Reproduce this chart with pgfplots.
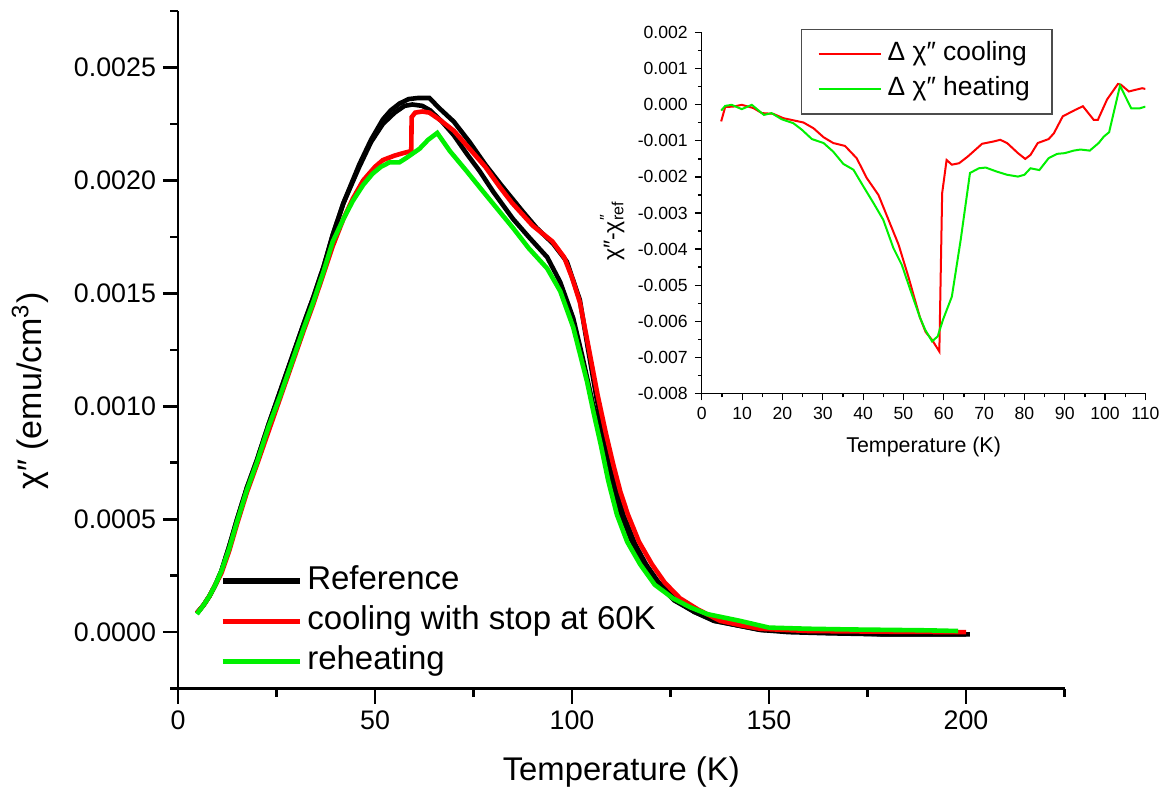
\documentclass[border=0pt]{standalone}
\usepackage{fontspec}
\setmainfont{Liberation Sans}
\usepackage{pgfplots}
\pgfplotsset{compat=1.18}
\usepackage{pgfplotstable}

\pgfplotstableread{
T y
4.8 0.000084
6.5 0.00012
8 0.00016
9.5 0.00021
11 0.00027
13 0.00038
15 0.00050
17.5 0.00064
20 0.00076
23 0.00092
26 0.00107
29 0.00122
32 0.00137
34.3 0.00148
37 0.00162
39.3 0.00176
42 0.00190
46 0.00207
49 0.00218
52 0.00227
54 0.00231
56.2 0.00234
58.5 0.00236
61 0.002365
63.8 0.002365
66.3 0.00232
70 0.00226
74 0.00217
78 0.00207
82 0.00198
87.6 0.00186
91 0.00179
95.2 0.00172
98.7 0.00164
102 0.00147
104 0.00126
106.3 0.00103
108.4 0.00086
110.5 0.00069
113 0.00052
116 0.00039
118.8 0.00030
122 0.00022
126.4 0.00015
131 0.00009
136.3 0.00005
142 0.00003
147.7 0.000010
155 0.000000
165 -0.000005
180 -0.00001
190 -0.00001
201 -0.00001
}\refA

\pgfplotstableread{
T y
4.8 0.000084
6.5 0.00012
8 0.00016
9.5 0.00021
11 0.00027
13 0.00038
15 0.00050
17.5 0.00064
20 0.00076
23 0.00092
26 0.00107
29 0.00122
32 0.00137
34.3 0.00148
37 0.00162
39.3 0.00176
42 0.00190
46 0.00206
49 0.00217
52 0.00225
55 0.00230
57.5 0.00233
59.5 0.002336
62 0.00233
64 0.00231
67 0.00226
70 0.00220
73.2 0.00212
76.6 0.00204
80 0.00195
85 0.00183
89 0.00175
93.7 0.00166
97 0.00155
100.3 0.00139
102.5 0.00123
105.3 0.00101
107.9 0.00085
110 0.00068
112.5 0.00052
115 0.00041
118.3 0.00030
122 0.00021
126 0.00014
131 0.00009
136 0.00005
142 0.00003
148 0.00001
160 0.0
180 -0.00001
200 -0.00001
}\refB

\pgfplotstableread{
T y
4.8 0.000084
6.5 0.00012
8 0.00016
9.5 0.00021
11 0.00026
13 0.00036
15 0.00048
17.5 0.00062
20 0.00074
23 0.00089
26 0.00104
29 0.00119
32 0.00134
34.3 0.00145
37 0.00159
39.3 0.00171
42 0.00183
44.4 0.00192
47 0.00200
50 0.00206
52 0.00209
55 0.00211
57 0.00212
59.2 0.00213
59.3 0.00228
60.2 0.00230
62 0.002305
63.8 0.00230
66.3 0.00227
70 0.00222
74 0.00214
78 0.00206
81.7 0.00197
84.8 0.00190
90 0.00180
95 0.00173
98 0.00166
100 0.00157
102 0.00146
104 0.00128
106.5 0.00105
108.6 0.00088
110.5 0.00074
112.3 0.00062
114.2 0.00052
117 0.00040
120.3 0.00030
123.5 0.00022
127.4 0.00015
132 0.00010
137.6 0.00005
143 0.00003
147.7 0.000015
160 0.000005
180 0.000002
200 0.0
}\cool

\pgfplotstableread{
T y
4.8 0.00008
6.5 0.00012
8 0.00016
9.5 0.00021
11 0.00027
13 0.00037
15 0.00049
17.5 0.00063
20 0.00075
23 0.00091
26 0.00105
29 0.00120
32 0.00135
34.3 0.00146
37 0.00160
39.3 0.00173
42 0.00183
44.4 0.00191
47 0.00198
49.4 0.00203
51.5 0.00206
53.7 0.00208
56.2 0.00208
58 0.00210
61.3 0.00214
63.5 0.00218
65.8 0.00221
69 0.00213
73.3 0.00204
77 0.00196
81.7 0.00186
85 0.00179
89 0.00170
93.7 0.00161
97 0.00151
100.3 0.00135
103.8 0.00111
105.5 0.00097
107.3 0.00083
109.2 0.00067
111.4 0.00052
114 0.00040
117.3 0.00030
121 0.00021
125.6 0.00015
130 0.00011
134.3 0.00008
142.6 0.00005
150 0.00002
160 0.000015
170 0.000012
180 0.00001
190 0.000008
198 0.000005
}\heat

\pgfplotstableread{
T y
4.8 -0.00046
5.8 -0.00006
7.8 -0.00005
9.9 0.0
12.8 -0.00009
14.9 -0.00023
17.7 -0.00025
20.2 -0.00037
22.7 -0.00043
25.2 -0.00049
27.7 -0.00065
30.2 -0.00090
32.6 -0.00106
35.5 -0.00114
38.4 -0.00148
40.9 -0.00203
43.8 -0.00250
46.3 -0.00319
48.8 -0.00388
51.2 -0.00476
54.1 -0.00590
55.5 -0.00630
57.1 -0.00652
58.9 -0.00684
59.6 -0.00245
60.7 -0.00153
62.0 -0.00166
63.8 -0.00162
66.0 -0.00143
69.5 -0.00108
72.2 -0.00102
74.0 -0.00097
75.7 -0.00106
78.4 -0.00134
80.2 -0.00150
81.5 -0.00139
83.3 -0.00106
86.0 -0.00095
87.3 -0.00079
89.5 -0.00032
92.6 -0.00014
94.5 -0.00004
97.2 -0.00042
98.2 -0.00042
100.5 0.00015
103.2 0.00058
103.9 0.00056
105.9 0.00037
107.7 0.00042
109.2 0.00046
110 0.00044
}\dcool

\pgfplotstableread{
T y
4.8 -0.00016
5.8 -0.00003
7.4 0.0
9.9 -0.00012
12.4 0.0
15.4 -0.00028
17.3 -0.00023
19.8 -0.00040
22.7 -0.00051
24.8 -0.00069
27.3 -0.00095
30.2 -0.00106
32.6 -0.00130
35.1 -0.00164
37.6 -0.00180
40.1 -0.00227
42.6 -0.00273
45.0 -0.00319
47.5 -0.00397
49.6 -0.00444
51.7 -0.00513
54.1 -0.00590
55.4 -0.00624
57.1 -0.00656
58.5 -0.00642
59.8 -0.00596
62.0 -0.00532
64.2 -0.00374
66.5 -0.00189
68.7 -0.00176
70.4 -0.00174
73.1 -0.00185
75.7 -0.00194
78.4 -0.00199
80.0 -0.00194
81.5 -0.00176
83.7 -0.00181
86.0 -0.00148
88.1 -0.00136
90.0 -0.00134
92.2 -0.00127
93.9 -0.00124
96.2 -0.00127
98.4 -0.00106
99.7 -0.00088
101.0 -0.00076
103.7 0.00053
106.5 -0.00010
108.5 -0.00010
110 -0.00005
}\dheat

\definecolor{myred}{RGB}{255,0,0}
\definecolor{mygreen}{RGB}{0,240,0}

\begin{document}
\begin{tikzpicture}
\useasboundingbox (0,0) rectangle (580pt,396.5pt);

\begin{axis}[
  at={(89pt,52.2pt)}, anchor=south west,
  scale only axis, width=443.25pt, height=338.8pt,
  xmin=0, xmax=225, ymin=-0.00025, ymax=0.00275,
  axis x line=bottom, axis y line=left,
  axis line style={line width=1.3pt, -},
  tick align=outside,
  major tick length=7.5pt, minor tick length=4pt,
  tick style={line width=1.3pt, black},
  xtick={0,50,100,150,200}, minor xtick={25,75,125,175,225},
  ytick={0,0.0005,0.001,0.0015,0.002,0.0025},
  minor ytick={-0.00025,0.00025,0.00075,0.00125,0.00175,0.00225,0.00275},
  scaled y ticks=false,
  yticklabel style={/pgf/number format/.cd, fixed, fixed zerofill, precision=4},
  /pgf/number format/assume math mode=true,
  ticklabel style={font=\fontsize{13.4}{16}\selectfont},
  xlabel={Temperature (K)},
  ylabel={χ″ (emu/cm\textsuperscript{3})},
  xlabel style={font=\fontsize{16.4}{19}\selectfont, at={(axis description cs:0.5,-0.123)}, anchor=center},
  ylabel style={font=\fontsize{17}{20}\selectfont, at={(axis description cs:-0.167,0.439)}, anchor=center},
  legend cell align=left,
  legend image code/.code={\draw[#1, line width=2.6pt] (0pt,0pt) -- (38.5pt,0pt);},
  legend style={draw=none, fill=none, at={(axis description cs:0.047,0.183)}, anchor=north west,
    font=\fontsize{16.5}{19}\selectfont, row sep=4.1pt, inner sep=0pt,
    nodes={inner ysep=0pt, inner xsep=2.5pt, text height=12pt, text depth=4pt}},
]
\addplot[black, line width=2.3pt] table[x=T, y=y] {\refA};
\addlegendentry{Reference}
\addplot[black, line width=2.3pt, forget plot] table[x=T, y=y] {\refB};
\addplot[myred, line width=2.3pt] table[x=T, y=y] {\cool};
\addlegendentry{cooling with stop at 60K}
\addplot[mygreen, line width=2.3pt] table[x=T, y=y] {\heat};
\addlegendentry{reheating}
\end{axis}

\begin{axis}[
  at={(350.9pt,199.85pt)}, anchor=south west,
  scale only axis, width=221.8pt, height=180.3pt,
  xmin=0, xmax=110, ymin=-0.008, ymax=0.002,
  axis x line=bottom, axis y line=left,
  axis line style={line width=0.6pt, -},
  tick align=outside,
  major tick length=3.5pt, minor tick length=2pt,
  tick style={line width=0.6pt, black},
  xtick={0,10,20,30,40,50,60,70,80,90,100,110},
  minor xtick={5,15,25,35,45,55,65,75,85,95,105},
  ytick={-0.008,-0.007,-0.006,-0.005,-0.004,-0.003,-0.002,-0.001,0,0.001,0.002},
  minor ytick={-0.0075,-0.0065,-0.0055,-0.0045,-0.0035,-0.0025,-0.0015,-0.0005,0.0005,0.0015},
  scaled y ticks=false,
  yticklabel style={/pgf/number format/.cd, fixed, fixed zerofill, precision=3},
  /pgf/number format/assume math mode=true,
  ticklabel style={font=\fontsize{8.8}{10.5}\selectfont},
  xlabel={Temperature (K)},
  ylabel={χ″-χ\rlap{\textsuperscript{″}}\textsubscript{ref}},
  xlabel style={font=\fontsize{10.7}{12.5}\selectfont, at={(axis description cs:0.5,-0.149)}, anchor=center},
  ylabel style={font=\fontsize{11.5}{13}\selectfont, at={(axis description cs:-0.202,0.45)}, anchor=center},
  legend cell align=left,
  legend image code/.code={\draw[#1, line width=1pt] (0pt,0pt) -- (31pt,0pt);},
  legend style={draw=black!70, line width=0.7pt, fill=none, at={(axis description cs:0.2236,1.011)}, anchor=north west,
    font=\fontsize{13.2}{15}\selectfont, row sep=4.8pt, inner xsep=8pt, inner ysep=6pt,
    nodes={inner ysep=0pt, inner xsep=3pt, text height=9.6pt, text depth=3.1pt}},
]
\addplot[myred, line width=1pt] table[x=T, y=y] {\dcool};
\addlegendentry{Δ χ″ cooling}
\addplot[mygreen, line width=1pt] table[x=T, y=y] {\dheat};
\addlegendentry{Δ χ″ heating}
\end{axis}
\end{tikzpicture}
\end{document}
